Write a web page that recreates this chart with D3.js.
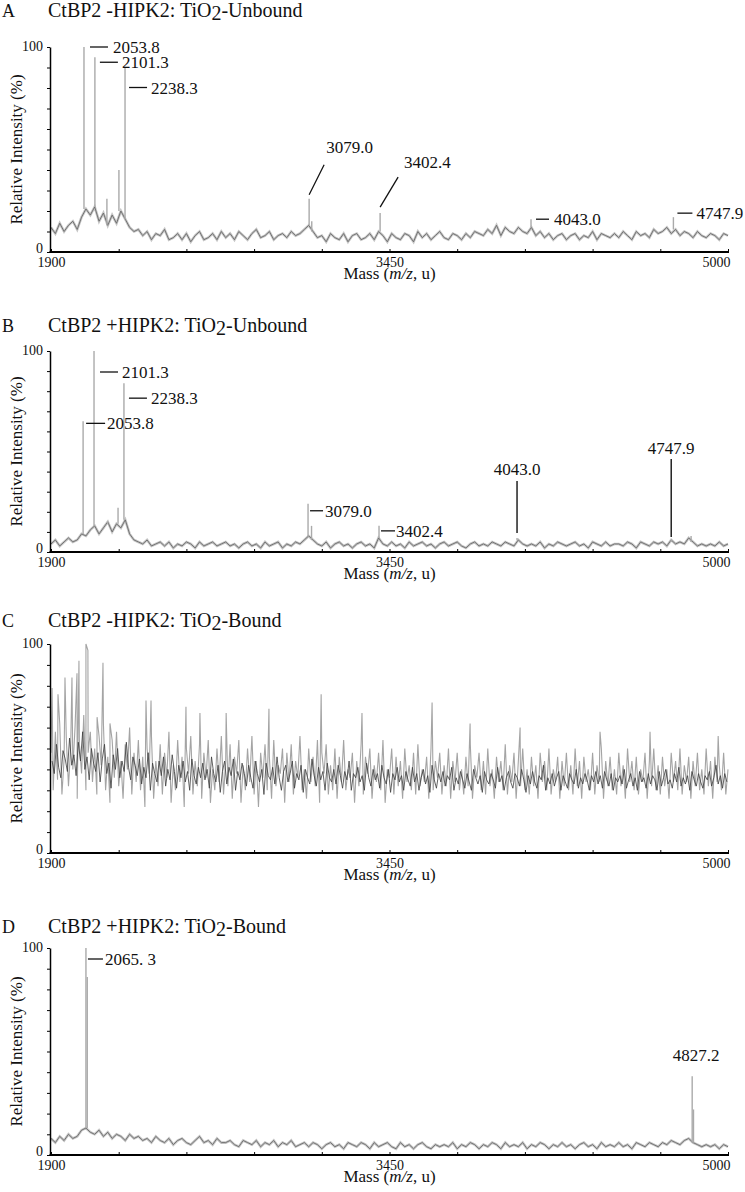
<!DOCTYPE html>
<html><head><meta charset="utf-8">
<script src="https://cdn.jsdelivr.net/npm/d3@7"></script>
<style>
body{margin:0;background:#fff}
svg{display:block}
text{font-family:"Liberation Serif","Times New Roman",serif;fill:#111}
</style>
</head><body><svg id="c" width="745" height="1192"></svg>
<script>
// ---------------- data ----------------
const massDomain = [1900, 5000];
const intensityDomain = [0, 100];
const xTickValues = [1900,2210,2520,2830,3140,3450,3760,4070,4380,4690,5000];
const xTickLabels = {1900:"1900", 3450:"3450", 5000:"5000"};
const yTickValues = [0,10,20,30,40,50,60,70,80,90,100];
const yTickLabels = {0:"0", 100:"100"};
const panelLetters = ["A","B","C","D"];
const panelTitles = [
  ["CtBP2 -HIPK2: TiO","2","-Unbound"],
  ["CtBP2 +HIPK2: TiO","2","-Unbound"],
  ["CtBP2 -HIPK2: TiO","2","-Bound"],
  ["CtBP2 +HIPK2: TiO","2","-Bound"]
];
const yAxisTitle = "Relative Intensity (%)";
const xAxisTitle = ["Mass (", "m/z", ", u)"];

// background traces, evenly spaced over the mass range (relative intensity %)
const seriesA = [
 12,9,14,10,13,15,11,17,21,18,
 22,15,19,13,18,14,20,16,12,10,
 11,8,10,6,9,8,11,6,7,9,
 6,9,5,8,10,6,7,9,6,10,
 7,9,6,10,8,6,9,11,7,8,
 10,6,8,9,7,10,8,9,11,13,
 10,7,8,5,9,7,6,9,5,8,
 9,6,7,9,6,10,8,5,9,7,
 6,9,8,5,10,7,9,6,8,10,
 7,6,9,8,6,9,7,10,9,8,
 11,9,13,8,12,10,9,12,10,9,
 12,8,10,7,9,6,8,9,6,8,
 9,6,8,7,10,6,9,8,7,9,
 7,10,8,6,10,8,9,7,11,9,
 10,12,9,11,8,10,9,7,10,8,
 7,9,8,6,9,8];
const seriesB = [
 4,6,3,5,7,5,6,9,8,11,
 13,9,12,15,10,14,12,16,9,6,
 5,4,6,3,4,5,3,5,2,4,
 3,5,4,2,5,3,4,5,3,4,
 5,3,4,2,4,5,3,4,2,5,
 3,4,5,2,4,3,5,4,6,8,
 6,4,3,5,2,4,5,3,4,2,
 4,5,3,4,2,7,4,3,5,3,
 4,2,5,3,4,5,3,4,2,4,
 5,3,4,5,3,2,4,5,3,4,
 3,5,4,3,5,4,3,6,4,3,
 4,3,5,2,4,3,5,4,3,4,
 5,3,4,2,5,4,3,5,3,4,
 4,3,5,4,2,5,4,3,5,4,
 5,3,6,4,5,4,7,5,3,4,
 3,4,3,5,3,4];
// panel C: light trace (grid 1900..5000) and dark trace (grid 1905..4995)
const seriesC = [
 48,30,58,35,62,28,45,55,32,50,
 40,60,26,52,38,66,30,48,58,34,
 50,28,56,42,62,30,46,24,54,36,
 58,32,44,26,52,40,60,28,48,34,
 54,30,46,22,50,38,56,26,44,32,
 52,28,48,36,58,24,42,30,54,34,
 46,22,50,38,56,28,44,32,52,26,
 48,36,54,24,40,30,50,34,56,28,
 44,32,52,26,46,38,54,24,42,30,
 50,34,56,28,44,22,48,36,52,30,
 46,26,54,32,42,38,50,24,48,34,
 52,28,44,36,56,30,40,26,50,34,
 46,32,54,24,48,38,52,28,42,30,
 50,26,46,34,54,30,40,36,48,24,
 44,32,52,28,46,38,50,26,42,34,
 48,30,54,24,40,36,50,28,46,32,
 44,26,50,34,42,30,48,28,52,32,
 40,34,46,26,50,30,44,36,48,28,
 42,32,50,26,44,34,48,30,40,28,
 46,32,52,26,42,36,48,30,44,28,
 50,32,40,26,46,34,44,30,52,28,
 42,34,48,26,44,32,50,30,40,28,
 46,32,42,26,48,34,44,30,50,28,
 40,34,46,26,44,32,48,30,42,28,
 50,32,44,26,46,34,40,30,48,28,
 42,34,50,26,44,32,46,30,40,28,
 48,32,42,26,50,34,44,30,46,28,
 40,34,48,26,44,32,50,30,42,28,
 46,32,40,26,48,34,44,30,50,28,
 42,34,46,26,44,32,48,30,40,28,
 50,32,44,26,46,34,42,30,48,28,
 40];
const seriesC2 = [
 44,38,52,41,36,49,45,39,55,42,
 47,37,53,44,58,40,46,35,50,43,
 39,48,34,45,52,38,43,31,47,40,
 50,36,44,39,53,41,35,46,42,37,
 45,33,41,36,48,30,43,38,34,44,
 37,46,32,40,35,47,39,31,42,36,
 44,34,39,30,45,37,33,41,36,43,
 35,40,31,46,38,34,42,29,39,44,
 33,41,37,45,30,39,35,43,38,32,
 42,36,31,44,38,34,40,28,43,37,
 35,41,33,46,36,30,39,42,34,38,
 44,31,38,35,42,29,40,36,33,45,
 37,32,41,35,39,30,43,36,34,40,
 33,42,37,31,39,35,44,30,38,36,
 41,34,37,30,43,36,32,40,35,38,
 31,42,36,33,40,29,38,35,41,34,
 37,30,39,35,32,41,34,38,30,36,
 40,33,37,29,42,35,31,38,34,39,
 32,37,35,41,30,36,33,39,35,31,
 38,34,30,40,36,33,37,29,39,35,
 33,38,35,31,41,34,37,30,36,39,
 34,31,38,36,32,40,35,29,37,33,
 39,34,31,37,35,42,30,36,33,38,
 32,36,39,30,37,34,31,38,35,33,
 40,31,36,33,38,35,30,37,34,39,
 33,37,31,39,35,32,38,30,36,34,
 37,33,40,31,35,38,32,36,30,39,
 34,36,31,38,33,37,35,30,39,32,
 36,40,33,35,31,38,34,41,32,36,
 33,37,30,39,35,32,38,34,31,37,
 35,39,32,36,42,33,37,31,38,34];
const seriesD = [
 8,6,9,7,10,8,9,12,13,11,
 10,12,9,11,8,10,9,7,10,8,
 9,7,8,6,9,7,6,8,5,7,
 8,6,5,7,9,6,7,5,8,6,
 6,7,5,4,7,6,5,7,4,6,
 5,7,4,6,5,7,4,5,6,4,
 6,5,3,5,6,4,5,3,6,5,
 4,6,5,3,6,4,5,6,4,3,
 6,4,5,3,5,6,4,3,5,4,
 5,4,6,3,5,4,6,5,3,5,
 4,6,5,3,6,4,5,4,6,3,
 5,4,6,5,3,5,4,6,4,5,
 3,5,6,4,5,3,6,4,5,4,
 6,4,5,3,6,5,4,6,5,4,
 6,5,7,6,5,7,8,6,5,4,
 5,4,5,3,5,4];

// peaks [m/z, relative intensity %]
const peaksA = [[2051,100],[2101,95],[2156,26],[2211,40],[2239,90],[3082,26],[3094,15],[3407,19],[4098,16],[4750,17]];
const peaksB = [[2047,65],[2097,100],[2160,14],[2207,22],[2234,84],[3077,24],[3093,13],[3402,13],[4034,7],[4740,5],[4831,8]];
const spikesC = [[1905,79],[1932,76],[1964,84],[1996,84],[2019,86],[2028,92],[2060,100],[2069,97],[2111,65],[2138,91],[2170,62],[2335,73],[2358,73],[2518,70],[2582,67],[2702,67],[2898,69],[3137,76],[3324,67],[3645,72],[3819,62],[4048,60],[4414,58],[4643,58],[4955,56]];
const peaksD = [[2060,100],[2066,86],[4836,38],[4842,22]];

// peak labels
const labelsA = ["2053.8","2101.3","2238.3","3079.0","3402.4","4043.0","4747.9"];
const labelMzA = [2051,2101,2239,3082,3407,4098,4750];
const labelsB = ["2101.3","2238.3","2053.8","3079.0","3402.4","4043.0","4747.9"];
const labelMzB = [2097,2234,2047,3077,3402,4034,4740];
const labelsD = ["2065. 3","4827.2"];
const labelMzD = [2060,4836];

// ---------------- layout ----------------
const X0 = 51, X1 = 728;
const panels = [
  {top:47,  bottom:252,  titleY:17,  series:seriesA, peaks:peaksA, labels:labelsA, labelMz:labelMzA},
  {top:351, bottom:552,  titleY:332, series:seriesB, peaks:peaksB, labels:labelsB, labelMz:labelMzB},
  {top:644, bottom:853,  titleY:627, series:seriesC, dark:seriesC2, spikes:spikesC},
  {top:948, bottom:1155, titleY:933, series:seriesD, peaks:peaksD, labels:labelsD, labelMz:labelMzD}
];
// leader styles (pixel offsets relative to peak top)
const leaderLayout = [
  [ {k:"dash",dy:0,x0:6,x1:24,tx:29}, {k:"dash",dy:5,x0:5,x1:23,tx:27}, {k:"dash",dy:20,x0:4,x1:22,tx:26},
    {k:"diag",dy0:-4,x1:15,dy1:-34,tx:17,ty:-46}, {k:"diag",dy0:-6,x1:18,dy1:-36,tx:24,ty:-45},
    {k:"dash",dy:0,x0:5,x1:18,tx:23}, {k:"dash",dy:-4,x0:4,x1:19,tx:23} ],
  [ {k:"dash",dy:21,x0:6,x1:24,tx:28}, {k:"dash",dy:15,x0:5,x1:23,tx:27}, {k:"dash",dy:2,x0:3,x1:22,tx:24},
    {k:"dash",dy:7,x0:2,x1:15,tx:17}, {k:"dash",dy:5,x0:2,x1:16,tx:17},
    {k:"vert",dy0:-5,dy1:-57,ty:-63}, {k:"vert",dy0:-5,dy1:-83,ty:-88} ],
  [],
  [ {k:"dash",dy:11,x0:2,x1:17,tx:19}, {k:"none",tx:4,ty:-15} ]
];

const svg = d3.select("#c");
const x = d3.scaleLinear().domain(massDomain).range([X0, X1]);

function gridPoints(values, offsetHalf){
  const n = offsetHalf ? values.length : values.length - 1;
  const step = (massDomain[1]-massDomain[0])/n;
  const start = massDomain[0] + (offsetHalf ? step/2 : 0);
  return values.map((v,i)=>[start+i*step, v]);
}

panels.forEach((p, pi) => {
  const g = svg.append("g");
  const y = d3.scaleLinear().domain(intensityDomain).range([p.bottom, p.top]);
  const pts = gridPoints(p.series, false);
  const step = (massDomain[1]-massDomain[0])/(p.series.length-1);
  const baseAt = mz => p.series[Math.max(0, Math.min(p.series.length-1, Math.round((mz-massDomain[0])/step)))];
  const line = d3.line().x(d=>x(d[0])).y(d=>y(d[1]));

  if (p.spikes) {
    const all = pts.concat(p.spikes).sort((a,b)=>a[0]-b[0]);
    g.append("path").attr("d", line(all)).attr("fill","none").attr("stroke","#a4a4a4").attr("stroke-width",1.1);
    g.append("path").attr("d", line(gridPoints(p.dark, true))).attr("fill","none").attr("stroke","#3c3c3c").attr("stroke-width",0.8);
  } else {
    g.append("path").attr("d", line(pts)).attr("fill","none").attr("stroke","#c6c6c6").attr("stroke-width",2.6);
    g.append("path").attr("d", line(pts)).attr("fill","none").attr("stroke","#5e5e5e").attr("stroke-width",0.8);
    g.selectAll("line.pk").data(p.peaks).join("line").attr("class","pk")
      .attr("x1", d=>x(d[0])).attr("x2", d=>x(d[0]))
      .attr("y1", d=>y(baseAt(d[0]))).attr("y2", d=>y(d[1]))
      .attr("stroke","#aaa").attr("stroke-width",1.4);
  }

  // axes
  const ya = d3.axisLeft(y).tickValues(yTickValues).tickSize(3).tickSizeOuter(0).tickPadding(4)
    .tickFormat(d => yTickLabels[d] || "");
  const yg = g.append("g").attr("transform",`translate(${X0-1},0)`).call(ya);
  yg.attr("font-family",null);
  yg.select(".domain").attr("stroke","#000").attr("stroke-width",1.5);
  yg.selectAll("text").attr("font-size",14).attr("fill","#111");
  yg.selectAll(".tick").filter(d=>d===intensityDomain[0]).select("text").attr("dy","0.05em");
  yg.selectAll(".tick").filter(d=>d===intensityDomain[1]).select("text").attr("dy","0.25em");

  const xa = d3.axisBottom(x).tickValues(xTickValues).tickSize(-3).tickSizeOuter(0).tickPadding(5)
    .tickFormat(d => xTickLabels[d] || "");
  const xg = g.append("g").attr("transform",`translate(0,${p.bottom})`).call(xa);
  xg.attr("font-family",null);
  xg.select(".domain").attr("stroke","#000").attr("stroke-width",2).attr("d",`M${X0-1.5},0H${X1+1}`);
  xg.selectAll("text").attr("font-size",14).attr("fill","#111");
  xg.selectAll(".tick").filter(d=>d===massDomain[1]).select("text").attr("text-anchor","end").attr("x",2);

  // titles
  const t = g.append("text").attr("x",48).attr("y",p.titleY).attr("font-size",20);
  t.append("tspan").text(panelTitles[pi][0]);
  t.append("tspan").attr("dy",3).text(panelTitles[pi][1]);
  t.append("tspan").attr("dy",-3).text(panelTitles[pi][2]);
  g.append("text").attr("x",2).attr("y",p.titleY).attr("font-size",18).text(panelLetters[pi]);

  const mt = g.append("text").attr("x",(X0+X1)/2).attr("y",p.bottom+27).attr("text-anchor","middle").attr("font-size",17);
  mt.append("tspan").text(xAxisTitle[0]);
  mt.append("tspan").attr("font-style","italic").text(xAxisTitle[1]);
  mt.append("tspan").text(xAxisTitle[2]);
  g.append("text").attr("transform",`translate(22,${(p.top+p.bottom)/2}) rotate(-90)`)
    .attr("text-anchor","middle").attr("font-size",17).text(yAxisTitle);

  // annotations
  if (p.labels) {
    p.labels.forEach((lab, li) => {
      const pk = p.peaks.find(q=>q[0]===p.labelMz[li]);
      const px = x(pk[0]), py = y(pk[1]);
      const L = leaderLayout[pi][li];
      if (L.k==="dash") {
        g.append("line").attr("x1",px+L.x0).attr("x2",px+L.x1).attr("y1",py+L.dy).attr("y2",py+L.dy)
          .attr("stroke","#111").attr("stroke-width",1.3);
        g.append("text").attr("x",px+L.tx).attr("y",py+L.dy+6).attr("font-size",17).text(lab);
      } else if (L.k==="diag") {
        g.append("line").attr("x1",px).attr("y1",py+L.dy0).attr("x2",px+L.x1).attr("y2",py+L.dy1)
          .attr("stroke","#111").attr("stroke-width",1.3);
        g.append("text").attr("x",px+L.tx).attr("y",py+L.ty).attr("font-size",17).text(lab);
      } else if (L.k==="vert") {
        g.append("line").attr("x1",px).attr("x2",px).attr("y1",py+L.dy0).attr("y2",py+L.dy1)
          .attr("stroke","#222").attr("stroke-width",1.5);
        g.append("text").attr("x",px).attr("y",py+L.ty).attr("text-anchor","middle").attr("font-size",17).text(lab);
      } else {
        g.append("text").attr("x",px+L.tx).attr("y",py+L.ty).attr("text-anchor","middle").attr("font-size",17).text(lab);
      }
    });
  }
});
</script>
</body></html>
